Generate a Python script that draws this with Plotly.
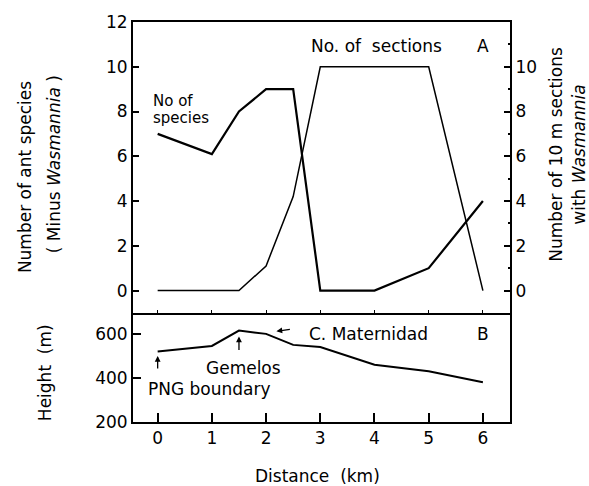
import plotly.graph_objects as go

distance_km = [0, 1, 1.5, 2, 2.5, 3, 4, 5, 6]
n_species = [7, 6.1, 8, 9, 9, 0, 0, 1, 4]
n_sections = [0, 0, 0, 1.1, 4.2, 10, 10, 10, 0]
height_m = [520, 545, 615, 600, 550, 540, 460, 430, 380]

W, H = 589, 486
L, R, T, B = 133, 510.5, 15.7, 421.7
split = 311.0

def px(xp):
    return (xp - L) / (R - L)

def py(yp):
    return (B - yp) / (B - T)

FONT = "DejaVu Sans"
dB = [0, py(split)]
dA = [py(split), 1]

fig = go.Figure()
fig.add_trace(go.Scatter(x=distance_km, y=n_species, mode="lines",
                         line=dict(color="black", width=2.2),
                         xaxis="x2", yaxis="y2", showlegend=False))
fig.add_trace(go.Scatter(x=distance_km, y=n_sections, mode="lines",
                         line=dict(color="black", width=1.5),
                         xaxis="x2", yaxis="y3", showlegend=False))
fig.add_trace(go.Scatter(x=distance_km, y=height_m, mode="lines",
                         line=dict(color="black", width=2),
                         xaxis="x", yaxis="y", showlegend=False))

xr = [-0.455, 6.5]
axline = dict(showline=True, linecolor="black", linewidth=2, showgrid=False,
              zeroline=False, ticks="inside", tickcolor="black")
TICKF = dict(size=17)

fig.update_layout(
    width=W, height=H,
    margin=dict(l=L, r=W - R, t=T, b=H - B, pad=0),
    paper_bgcolor="white", plot_bgcolor="white",
    font=dict(family=FONT, color="black", size=17),
    xaxis=dict(**axline, range=xr, domain=[0, 1], anchor="y", mirror=False,
               tickvals=[0, 1, 2, 3, 4, 5, 6], ticklen=9, tickwidth=1.5,
               tickfont=TICKF),
    yaxis=dict(**axline, range=[200, 695], domain=dB, anchor="x", mirror=True,
               tickvals=[200, 400, 600], ticklen=8, tickwidth=1.5,
               tickfont=TICKF),
    xaxis2=dict(**axline, range=xr, domain=[0, 1], anchor="y2", mirror=True,
                tickvals=[0, 1, 2, 3, 4, 5, 6], showticklabels=False, ticklen=3,
                tickwidth=1),
    yaxis2=dict(**axline, range=[-1, 12], domain=dA, anchor="x2", mirror=True,
                tickvals=[0, 2, 4, 6, 8, 10, 12], ticklen=6, tickwidth=1.5,
                tickfont=TICKF),
    yaxis3=dict(**axline, range=[-1, 12], overlaying="y2", side="right",
                anchor="x2", tickvals=[0, 2, 4, 6, 8, 10], ticklen=6,
                tickwidth=1.5, tickfont=TICKF,
                minor=dict(tickvals=[1, 3, 5, 7, 9, 11], ticklen=2,
                           ticks="inside", tickcolor="black")),
)

ann = []
def text(xp, yp, s, size=17, xanchor="center", angle=0):
    ann.append(dict(x=px(xp), y=py(yp), xref="paper", yref="paper", text=s,
                    showarrow=False, xanchor=xanchor, yanchor="middle",
                    textangle=angle,
                    font=dict(family=FONT, size=size, color="black")))

text(25, 173, "Number of ant species", angle=-90)
text(54, 160, "( Minus <i>Wasmannia</i> )", angle=-90)
text(557, 150, "Number of 10 m sections", angle=-90)
text(580, 150, "with <i>Wasmannia</i>", angle=-90)
text(45, 372, "Height  (m)", angle=-90)
text(318, 477, "Distance  (km)")
text(377, 40, "No. of  sections")
text(483, 40, "A")
text(151, 96, "No of", size=15, xanchor="left")
text(151, 113, "species", size=15, xanchor="left")
text(483, 332, "B")
text(369, 332, "C. Maternidad")
text(244, 367, "Gemelos")
text(210, 388, "PNG boundary")

# arrows (head at data point, tail offset in pixels)
for xd, yd, ax, ay in [(0, 500, 0, 14), (1.5, 588, 0, 15), (2.19, 612, 15, -2)]:
    ann.append(dict(x=xd, y=yd, xref="x", yref="y", text="", showarrow=True,
                    ax=ax, ay=ay, arrowhead=2, arrowsize=0.9, arrowwidth=1.3,
                    arrowcolor="black", standoff=0))

fig.update_layout(annotations=ann)
fig.write_html("out.html", config={"displayModeBar": False},
               post_script="document.body.style.margin='0';"
                           "document.body.style.overflow='hidden';")
